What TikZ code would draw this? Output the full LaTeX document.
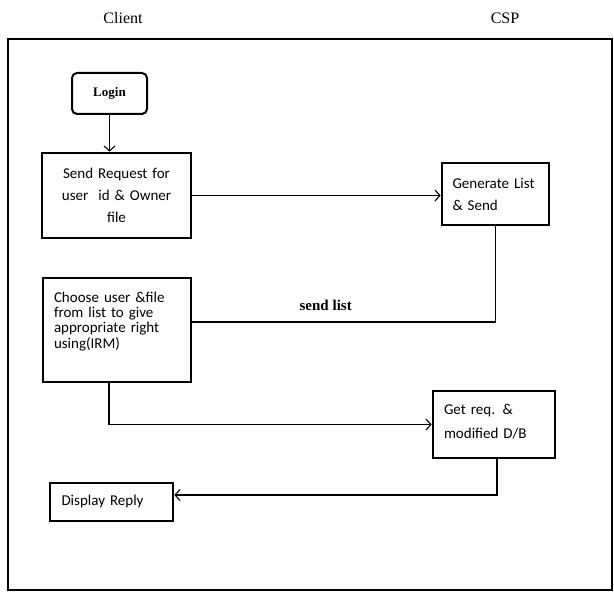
\documentclass[tikz,border=0pt]{standalone}
\usepackage{fontspec}
\usetikzlibrary{arrows.meta}
\setmainfont{Liberation Serif}
\newfontfamily\boxfont{Carlito}
\begin{document}
\begin{tikzpicture}[x=1pt,y=-1pt,
      lane/.style ={font=\fontsize{16}{19}\selectfont},
      stepbox/.style ={rectangle, draw, line width=2.6pt, inner sep = 0pt,
                       font=\boxfont\fontsize{15}{15.3}\selectfont},
      startbox/.style ={rectangle, rounded corners=5pt, draw, line width=2pt, inner sep = 0pt,
                        font=\bfseries\fontsize{13}{15}\selectfont},
      flow/.style ={line width=1.1pt, -{Straight Barb[length=5pt,width=11pt]}}]
   \useasboundingbox (0,0) rectangle (614,593);
   \draw[line width=2.7pt] (8,39) rectangle (612,590);
   \node[lane] (client) at (123,18) {Client};
   \node[lane] (csp) at (505,18) {CSP};
   \node[startbox, minimum width=75pt, minimum height=41pt] (login) at (109.5,93.5) {Login};
   \node[stepbox, minimum width=149pt, minimum height=85pt, text width=130pt, align=center,
         font=\boxfont\fontsize{15}{22}\selectfont] (sendreq) at (116.5,195.5)
         {Send Request for\\user~~id \& Owner\\file};
   \node[stepbox, minimum width=107pt, minimum height=62pt, text width=86pt, align=left,
         font=\boxfont\fontsize{15}{22}\selectfont] (gen) at (495.5,194)
         {Generate List\\\& Send};
   \node[stepbox, minimum width=148pt, minimum height=104pt, text width=126pt, align=left,
         text depth=66pt] (choose) at (117,330)
         {Choose user \&file\\from list to give\\appropriate right\\using(IRM)};
   \node[stepbox, minimum width=122pt, minimum height=67pt, text width=100pt, align=left,
         text depth=31pt, font=\boxfont\fontsize{15}{24}\selectfont] (getreq) at (494,424.5)
         {Get req. \&\\modified D/B};
   \node[stepbox, minimum width=123pt, minimum height=38pt, text width=100pt, align=left] (display) at (111.5,502)
         {Display Reply};
   \draw[flow] (login) -- (login |- sendreq.north);
   \draw[flow] (sendreq.east) -- (sendreq.east -| gen.west);
   \draw[flow,-] (gen.south) |- ([yshift=8pt]choose.east)
         node[pos=0.78, above=7pt, font=\bfseries\fontsize{15}{17}\selectfont] (sendlist) {send list};
   \draw[flow] ([xshift=-8pt]choose.south) |- (getreq.west);
   \draw[flow] ([xshift=3pt]getreq.south) |- ([yshift=7pt]display.east);
\end{tikzpicture}
\end{document}
